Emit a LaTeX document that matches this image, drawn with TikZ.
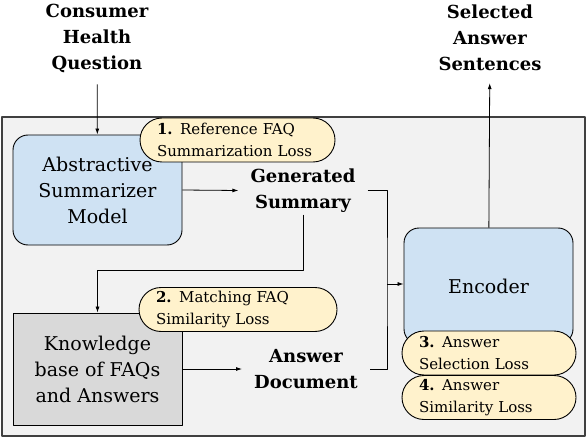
\documentclass[tikz,border=0pt]{standalone}
\usepackage{fontspec}
\setmainfont{DejaVu Serif}
\usepackage{tikz}
\usetikzlibrary{arrows.meta}
\definecolor{panelgray}{HTML}{F2F2F2}
\definecolor{modelblue}{HTML}{CFE2F3}
\definecolor{kbgray}{HTML}{D9D9D9}
\definecolor{lossyellow}{HTML}{FFF2CC}
\definecolor{edgegray}{HTML}{404040}

\begin{document}
\begin{tikzpicture}[x=1pt, y=-1pt, line join=round,
    model/.style={draw, line width=0.9pt, rounded corners=15pt, fill=modelblue,
      minimum width=169pt, minimum height=110pt, align=center,
      font=\fontsize{19}{26}\selectfont},
    kbase/.style={draw, line width=0.9pt, fill=kbgray,
      minimum width=169pt, minimum height=112pt, align=center,
      font=\fontsize{19}{26}\selectfont},
    loss/.style={draw, line width=0.9pt, rounded corners=22pt, fill=lossyellow,
      text width=#1, inner xsep=17pt, inner ysep=1pt, minimum height=44pt,
      align=left, font=\fontsize{15}{22}\selectfont},
    heading/.style={align=center, inner xsep=12pt, inner ysep=2pt,
      font=\fontsize{18}{26}\selectfont\bfseries},
    flow/.style={-{Latex[length=6pt,width=4pt]}, line width=0.8pt}]
  \useasboundingbox (0,0) rectangle (588,438);
  % grey panel behind the whole model
  \filldraw[fill=panelgray, draw=edgegray, line width=1.2pt] (2,117) rectangle (585,436);
  % inputs and outputs
  \node[heading] (question) at (97,38)  {Consumer\\Health\\Question};
  \node[heading] (selected) at (490,38) {Selected\\Answer\\Sentences};
  % summarizer and knowledge base
  \node[model] (summarizer) at (97.5,190) {Abstractive\\Summarizer\\Model};
  \node[kbase] (kb) at (97.5,369) {Knowledge\\base of FAQs\\and Answers};
  \node[heading] (summary)  at (303,190.5) {Generated\\Summary};
  \node[heading] (document) at (306,369)   {Answer\\Document};
  % answer encoder
  \node[model, minimum height=116pt] (encoder) at (488.5,286) {Encoder};
  % losses (yellow pills)
  \node[loss=161pt] (loss1) at (237.5,140) {\textbf{1.} Reference FAQ\\Summarization Loss};
  \node[loss=164pt] (loss2) at (238,309.5) {\textbf{2.} Matching FAQ\\Similarity Loss};
  \node[loss=140pt] (loss3) at (489,353)   {\textbf{3.} Answer\\Selection Loss};
  \node[loss=140pt] (loss4) at (489,397.5) {\textbf{4.} Answer\\Similarity Loss};
  % connectors
  \coordinate (turn) at (97.5,270);
  \coordinate (join) at (387,284);
  \draw[flow, shorten <=10pt] (question) -- (summarizer);
  \draw[flow] (summarizer.east) -- (summary.west);
  \draw[flow] (kb.east) -- (document.west);
  \draw[flow] (summary.south) |- (turn) -- (kb.north);
  \draw[line width=0.8pt] (summary.east) -| (join) |- (document.east);
  \draw[flow] (join) -- (join -| encoder.west);
  \draw[flow, shorten >=10pt] (encoder) -- (selected);
\end{tikzpicture}
\end{document}
